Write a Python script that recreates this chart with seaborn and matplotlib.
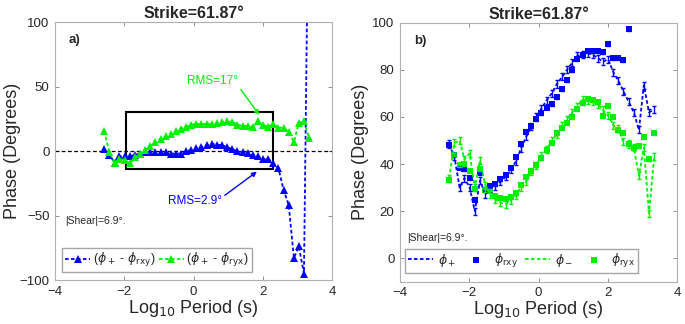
import numpy as np
import pandas as pd
import matplotlib.pyplot as plt
import matplotlib.patches as patches
import seaborn as sns

# ------------------------------------------------------- #
#                          DATOS                          #
# ------------------------------------------------------- #
log_period = [-2.58, -2.43, -2.28, -2.14, -1.99, -1.84, -1.69, -1.54, -1.40, -1.25,
              -1.10, -0.95, -0.80, -0.66, -0.51, -0.36, -0.21, -0.06, 0.08, 0.23,
              0.38, 0.53, 0.68, 0.82, 0.97, 1.12, 1.27, 1.42, 1.56, 1.71,
              1.86, 2.01, 2.16, 2.30, 2.45, 2.60, 2.75, 2.90, 3.04, 3.19, 3.34]

# panel a) diferencias de fase
diff_rxy = [1.5, -3, -9, -4, -4, -4, -3, -2, -1, -1,
            -1, -1, -1, -2, -2, -2, 0, 1, 2, 3,
            4.5, 5.5, 5, 4.5, 3, 1.5, 0, -1, -1.5, -3,
            -4, -6.5, -6, -9.5, -13, -30, -42, -83, -74, -95, 250]
diff_ryx = [15.5, -1, -9.5, -6, -7, -9.5, -5, -2, 1, 4,
            7, 9.5, 11.5, 13.5, 15.5, 17, 19, 20.5, 21, 21,
            21, 21, 21.5, 22.5, 23, 22.5, 20.5, 19.5, 19.5, 18.5,
            23, 20, 19, 21, 18, 18, 15, 7, 22, 23, 10]

# panel b) fases
phi_plus = [48.5, 43, 30, 34, 30, 20, 33, 27, 29.5, 30.5,
            32.5, 34.5, 37.5, 41, 46.5, 51.5, 56, 60, 63.5, 67,
            70, 74, 77, 80, 83, 86, 86.5, 87, 86.5, 85,
            83.5, 84.5, 79, 75.5, 71, 66.5, 62, 54.5, 73.5, 62, 63]
phi_rxy = [48, 44, 38.5, 38, 34, 24.5, 36, 29, 30.5, 31.5,
           33.5, 35.5, 38.5, 43, 48.5, 53.5, 56, 59, 61.5, 64,
           65.5, 68.5, 72, 75.5, 80, 84.5, 86.5, 88, 88, 88,
           87.5, 91, 85, 85, 84, 97.5, 104, 137.5, 147.5, 157, -187]
phi_minus = [34, 49, 50, 42, 44.5, 30, 41.5, 31, 27, 25,
             23.5, 23, 24.5, 26.5, 30, 32.5, 37, 39.5, 43.5, 46,
             50, 52.5, 56.5, 59, 62, 64.5, 67.5, 67, 66.5, 65.5,
             63, 60.5, 56.5, 55, 49.5, 48.5, 47, 35, 47, 19, 43]
phi_ryx = [33, 44, 39.5, 40, 37, 29.5, 38, 29, 28.5, 26.5,
           25.5, 25, 26, 27.5, 31, 34.5, 37, 39.5, 42.5, 46,
           49, 53, 55.5, 57.5, 60, 63.5, 66, 67.5, 67, 66.5,
           60.5, 64.5, 60, 54.5, 53, 48.5, 47, 47.5, 51.5, 42, 53]

df = pd.DataFrame({'T': log_period, 'd_rxy': diff_rxy, 'd_ryx': diff_ryx,
                   'p_plus': phi_plus, 'p_rxy': phi_rxy,
                   'p_minus': phi_minus, 'p_ryx': phi_ryx})

BLUE = '#0000ff'
GREEN = '#00f000'

sns.set_style('white')
plt.rcParams['font.family'] = ['Liberation Sans', 'DejaVu Sans']
plt.rcParams['axes.edgecolor'] = '#b0b0b0'
plt.rcParams['xtick.direction'] = 'in'
plt.rcParams['ytick.direction'] = 'in'

fig = plt.figure(figsize=(6.85, 3.24), dpi=100)
ax1 = fig.add_axes([0.0803, 0.1358, 0.4044, 0.796])
ax2 = fig.add_axes([0.584, 0.1306, 0.4044, 0.799])

dash = (2, 1.3)

# ------------------------------------------------------- #
#                         PANEL a)                        #
# ------------------------------------------------------- #
ax1.axhline(0, color='k', lw=0.9, dashes=(3, 2))
sns.lineplot(data=df, x='T', y='d_rxy', ax=ax1, color=BLUE, marker='^',
             markersize=5.5, markeredgewidth=0, lw=1.3, dashes=False,
             label=r'($\phi_+$ - $\phi_{\mathrm{rxy}}$)', sort=False)
sns.lineplot(data=df, x='T', y='d_ryx', ax=ax1, color=GREEN, marker='^',
             markersize=5.5, markeredgewidth=0, lw=1.3, dashes=False,
             label=r'($\phi_+$ - $\phi_{\mathrm{ryx}}$)', sort=False)
for ln in ax1.get_lines()[1:]:
    ln.set_dashes(dash)

ax1.add_patch(patches.Rectangle((-1.95, -14), 4.25, 44, fill=False,
                                edgecolor='k', lw=1.5))

ax1.annotate('RMS=17°', xy=(1.9, 28), xytext=(-0.2, 54), color=GREEN,
             fontsize=8.5, va='center',
             arrowprops=dict(arrowstyle='-|>', color=GREEN, lw=1,
                             shrinkA=0, shrinkB=0, mutation_scale=7,
                             relpos=(1, 0.2)))
ax1.annotate('RMS=2.9°', xy=(1.83, -16), xytext=(-0.75, -39), color=BLUE,
             fontsize=8.5, va='center',
             arrowprops=dict(arrowstyle='-|>', color=BLUE, lw=1,
                             shrinkA=0, shrinkB=0, mutation_scale=7,
                             relpos=(1, 0.8)))
ax1.text(-3.7, -54, '|Shear|=6.9°.', fontsize=7.5, va='center')
ax1.text(0.05, 0.93, 'a)', transform=ax1.transAxes, fontsize=9.5,
         fontweight='bold', va='center')

ax1.set_xlim(-4, 4)
ax1.set_ylim(-100, 100)
ax1.set_xticks([-4, -2, 0, 2, 4])
ax1.set_yticks([-100, -50, 0, 50, 100])
ax1.set_ylabel('Phase (Degrees)', fontsize=13, labelpad=-1)
ax1.set_xlabel(r'Log$_{10}$ Period (s)', fontsize=13, labelpad=0)
ax1.set_title('Strike=61.87°', fontsize=11.5, fontweight='bold', pad=3)
ax1.legend(loc='lower left', bbox_to_anchor=(0.025, 0.03), ncol=2,
           fontsize=9, frameon=True, fancybox=False, edgecolor='#909090',
           borderaxespad=0, handlelength=2.0, handletextpad=0.2,
           columnspacing=0.3, borderpad=0.25)

# ------------------------------------------------------- #
#                         PANEL b)                        #
# ------------------------------------------------------- #
sns.lineplot(data=df, x='T', y='p_plus', ax=ax2, color=BLUE, lw=1.3,
             label=r'$\phi_+$', sort=False)
ax2.errorbar(df['T'], df['p_plus'], yerr=1.5, fmt='none', ecolor=BLUE,
             elinewidth=1, capsize=1.6, capthick=1)
sns.scatterplot(data=df, x='T', y='p_rxy', ax=ax2, color=BLUE, marker='s',
                s=14, linewidth=0, label=r'$\phi_{\mathrm{rxy}}$')
ax2.errorbar(df['T'], df['p_rxy'], yerr=0.8, fmt='none', ecolor=BLUE,
             elinewidth=1, capsize=1.2)
sns.lineplot(data=df, x='T', y='p_minus', ax=ax2, color=GREEN, lw=1.3,
             label=r'$\phi_-$', sort=False)
ax2.errorbar(df['T'], df['p_minus'], yerr=1.5, fmt='none', ecolor=GREEN,
             elinewidth=1, capsize=1.6, capthick=1)
sns.scatterplot(data=df, x='T', y='p_ryx', ax=ax2, color=GREEN, marker='s',
                s=14, linewidth=0, label=r'$\phi_{\mathrm{ryx}}$')
ax2.errorbar(df['T'], df['p_ryx'], yerr=0.8, fmt='none', ecolor=GREEN,
             elinewidth=1, capsize=1.2)
for ln in ax2.get_lines():
    if ln.get_linestyle() == '-' and len(ln.get_xdata()) > 2:
        ln.set_dashes(dash)

ax2.text(-3.8, 8.5, '|Shear|=6.9°.', fontsize=7.5, va='center')
ax2.text(0.05, 0.93, 'b)', transform=ax2.transAxes, fontsize=9.5,
         fontweight='bold', va='center')

ax2.set_xlim(-4, 4)
ax2.set_ylim(-10, 100)
ax2.set_xticks([-4, -2, 0, 2, 4])
ax2.set_yticks([0, 20, 40, 60, 80, 100])
ax2.set_ylabel('Phase (Degrees)', fontsize=13, labelpad=2)
ax2.set_xlabel(r'Log$_{10}$ Period (s)', fontsize=13, labelpad=0)
ax2.set_title('Strike=61.87°', fontsize=11.5, fontweight='bold', pad=3)
ax2.legend(loc='lower left', bbox_to_anchor=(0.018, 0.034), ncol=4,
           fontsize=9, frameon=True, fancybox=False, edgecolor='#909090',
           borderaxespad=0, handlelength=2.0, handletextpad=0.4,
           columnspacing=0.6, borderpad=0.25)

for ax in (ax1, ax2):
    ax.tick_params(labelsize=9.5, length=3, width=0.6, color='#808080',
                   top=True, right=True, bottom=True, left=True)
    ax.tick_params(axis='x', pad=4)
    ax.tick_params(axis='y', pad=4)
    for sp in ax.spines.values():
        sp.set_linewidth(0.8)

plt.savefig('out.png', dpi=100)
